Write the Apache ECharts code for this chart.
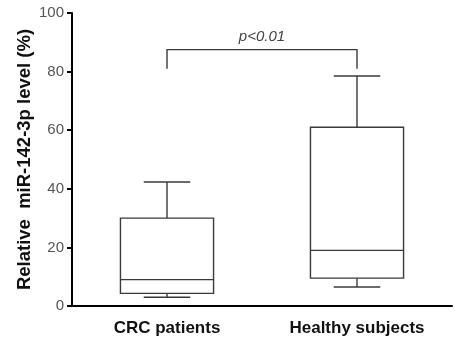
<!DOCTYPE html>
<html>
<head>
<meta charset="utf-8">
<script src="https://cdn.jsdelivr.net/npm/echarts@6/dist/echarts.min.js"></script>
<style>
  html, body { margin: 0; padding: 0; background: #fff; }
  #chart { width: 455px; height: 340px; }
</style>
</head>
<body>
<div id="chart"></div>
<script>
const groups = ['CRC patients', 'Healthy subjects'];
// [min, q1, median, q3, max]
const boxStats = [
  [3, 4.3, 9, 30, 42.3],
  [6.5, 9.5, 19, 61, 78.5]
];
const yTicks = [0, 20, 40, 60, 80, 100];
const bracket = { from: 0, to: 1, top: 87.5, leg: 81, label: 'p<0.01' };

const chart = echarts.init(document.getElementById('chart'));
const font = 'Liberation Sans, Arial, sans-serif';
const ink = '#3a3a3a';

const renderBox = (params, api) => {
  const cat = api.value(0);
  const x = api.coord([cat, 0])[0];
  const bw = api.size([1, 0])[0] * 0.49;
  const y = v => api.coord([cat, v])[1];
  const [mn, q1, md, q3, mx] = [1, 2, 3, 4, 5].map(i => y(api.value(i)));
  const style = { stroke: ink, lineWidth: 1.4, fill: null };
  const line = (x1, y1, x2, y2) => ({ type: 'line', shape: { x1, y1, x2, y2 }, style });
  return {
    type: 'group',
    children: [
      { type: 'rect', shape: { x: x - bw / 2, y: q3, width: bw, height: q1 - q3 }, style },
      line(x - bw / 2, md, x + bw / 2, md),
      line(x, q3, x, mx),
      line(x, q1, x, mn),
      line(x - bw / 4, mx, x + bw / 4, mx),
      line(x - bw / 4, mn, x + bw / 4, mn)
    ]
  };
};

const renderBracket = (params, api) => {
  const a = api.coord([api.value(0), api.value(2)]);
  const b = api.coord([api.value(1), api.value(2)]);
  const legY = api.coord([api.value(0), api.value(3)])[1];
  const style = { stroke: ink, lineWidth: 1.4, fill: null };
  return {
    type: 'group',
    children: [
      { type: 'polyline', shape: { points: [[a[0], legY], a, b, [b[0], legY]] }, style },
      {
        type: 'text',
        style: {
          text: bracket.label, x: (a[0] + b[0]) / 2, y: a[1] - 5,
          align: 'center', verticalAlign: 'bottom',
          font: 'italic 15px ' + font, fill: '#444'
        }
      }
    ]
  };
};

const option = {
  animation: false,
  grid: { left: 72, right: 3, top: 13, bottom: 34 },
  xAxis: {
    type: 'category',
    data: groups,
    boundaryGap: true,
    axisLine: { lineStyle: { color: '#000', width: 2 } },
    axisTick: { alignWithLabel: true, length: 5, lineStyle: { color: '#000', width: 2 } },
    axisLabel: { color: '#111', fontSize: 17, fontWeight: 'bold', fontFamily: font, margin: 14 }
  },
  yAxis: {
    type: 'value',
    min: yTicks[0],
    max: yTicks[yTicks.length - 1],
    interval: 20,
    name: 'Relative  miR-142-3p level (%)',
    nameLocation: 'middle',
    nameGap: 38,
    nameMoveOverlap: false,
    nameTextStyle: { color: '#111', fontSize: 18.5, fontWeight: 'bold', fontFamily: font },
    axisLine: { show: true, lineStyle: { color: '#000', width: 2 } },
    axisTick: { show: true, length: 5, lineStyle: { color: '#000', width: 2 } },
    axisLabel: { color: '#555', fontSize: 15, fontFamily: font, margin: 8 },
    splitLine: { show: false }
  },
  series: [
    {
      type: 'custom',
      renderItem: renderBox,
      data: boxStats.map((s, i) => [i, ...s])
    },
    {
      type: 'custom',
      renderItem: renderBracket,
      data: [[bracket.from, bracket.to, bracket.top, bracket.leg]]
    }
  ]
};

chart.setOption(option);
</script>
</body>
</html>
